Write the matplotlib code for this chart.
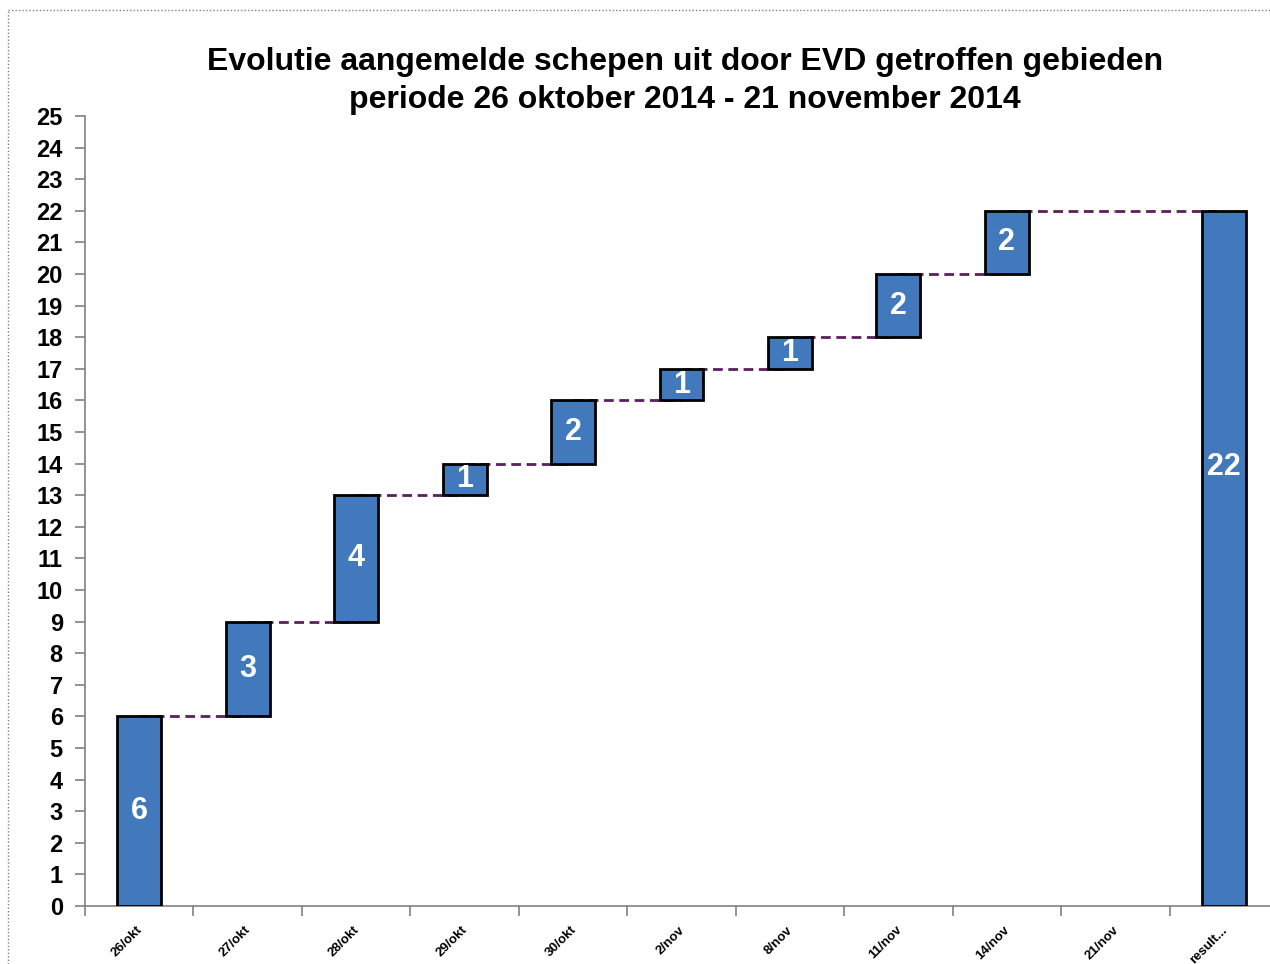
import matplotlib
matplotlib.use("Agg")
import matplotlib.pyplot as plt
from matplotlib.lines import Line2D
import matplotlib.transforms as mtransforms
import numpy as np

plt.rcParams['font.family'] = ['Liberation Sans', 'DejaVu Sans']

categories = ["26/okt", "27/okt", "28/okt", "29/okt", "30/okt", "2/nov",
              "8/nov", "11/nov", "14/nov", "21/nov", "result..."]
increments = [6, 3, 4, 1, 2, 1, 1, 2, 2, 0]
total = sum(increments)

title = "Evolutie aangemelde schepen uit door EVD getroffen gebieden\nperiode 26 oktober 2014 - 21 november 2014"

bar_color = "#4279BD"
conn_color = "#5A1F5E"

W, H = 1270, 964
fig = plt.figure(figsize=(W / 100, H / 100), dpi=100)
ax = fig.add_axes([85 / W, (H - 906) / H, 1193 / W, 790 / H])

n = len(categories)
x = np.arange(n)
bottoms = list(np.concatenate([[0], np.cumsum(increments)[:-1]])) + [0]
heights = list(increments) + [total]
tops = [b + h for b, h in zip(bottoms, heights)]

# connectors (center to center at the running total level)
for i in range(n - 1):
    ax.plot([x[i], x[i + 1]], [tops[i], tops[i]], color=conn_color, lw=2,
            ls=(0, (3.5, 2)), zorder=1, dash_capstyle='butt')

for i in range(n):
    if heights[i] == 0:
        continue
    ax.bar(x[i], heights[i], bottom=bottoms[i], width=0.405, color=bar_color,
           edgecolor='black', linewidth=2, zorder=3)
    # total bar label sits higher up in the original chart
    label_y = bottoms[i] + heights[i] / 2 if i < n - 1 else heights[i] * 0.632
    ax.text(x[i], label_y, str(heights[i]), color='white',
            fontsize=22, fontweight='bold', ha='center', va='center', zorder=4)

ax.set_xlim(-0.5, n - 0.5)
ax.set_ylim(0, 25)
ax.set_yticks(range(0, 26))
ax.set_yticklabels([str(v) for v in range(0, 26)], fontsize=17, fontweight='bold')
ax.tick_params(axis='y', direction='out', length=7, width=1.2, color='#808080', pad=9)

ax.set_xticks(x)
ax.set_xticklabels(categories, rotation=45, ha='right', rotation_mode='anchor',
                   fontsize=9.5, fontweight='bold')
ax.tick_params(axis='x', which='major', length=0, pad=13)
offset = mtransforms.ScaledTranslation(-3 / 100, 0, fig.dpi_scale_trans)
for lbl in ax.get_xticklabels():
    lbl.set_transform(lbl.get_transform() + offset)
ax.set_xticks(np.arange(-0.5, n - 0.5, 1.0), minor=True)
ax.tick_params(axis='x', which='minor', direction='out', length=7, width=1.2, color='#808080')

for s in ['top', 'right']:
    ax.spines[s].set_visible(False)
for s in ['left', 'bottom']:
    ax.spines[s].set_color('#808080')
    ax.spines[s].set_linewidth(1.2)

fig.text(685 / W, 1 - 81 / H, title, ha='center', va='center', fontsize=23,
         fontweight='bold', linespacing=1.32)

# outer dotted frame
fig.add_artist(Line2D([8 / W, 1], [1 - 10 / H, 1 - 10 / H], transform=fig.transFigure,
                      color='#808080', lw=1, ls=(0, (1, 1.5))))
fig.add_artist(Line2D([8 / W, 8 / W], [0, 1 - 10 / H], transform=fig.transFigure,
                      color='#808080', lw=1, ls=(0, (1, 1.5))))

fig.savefig("out.png", dpi=100)
